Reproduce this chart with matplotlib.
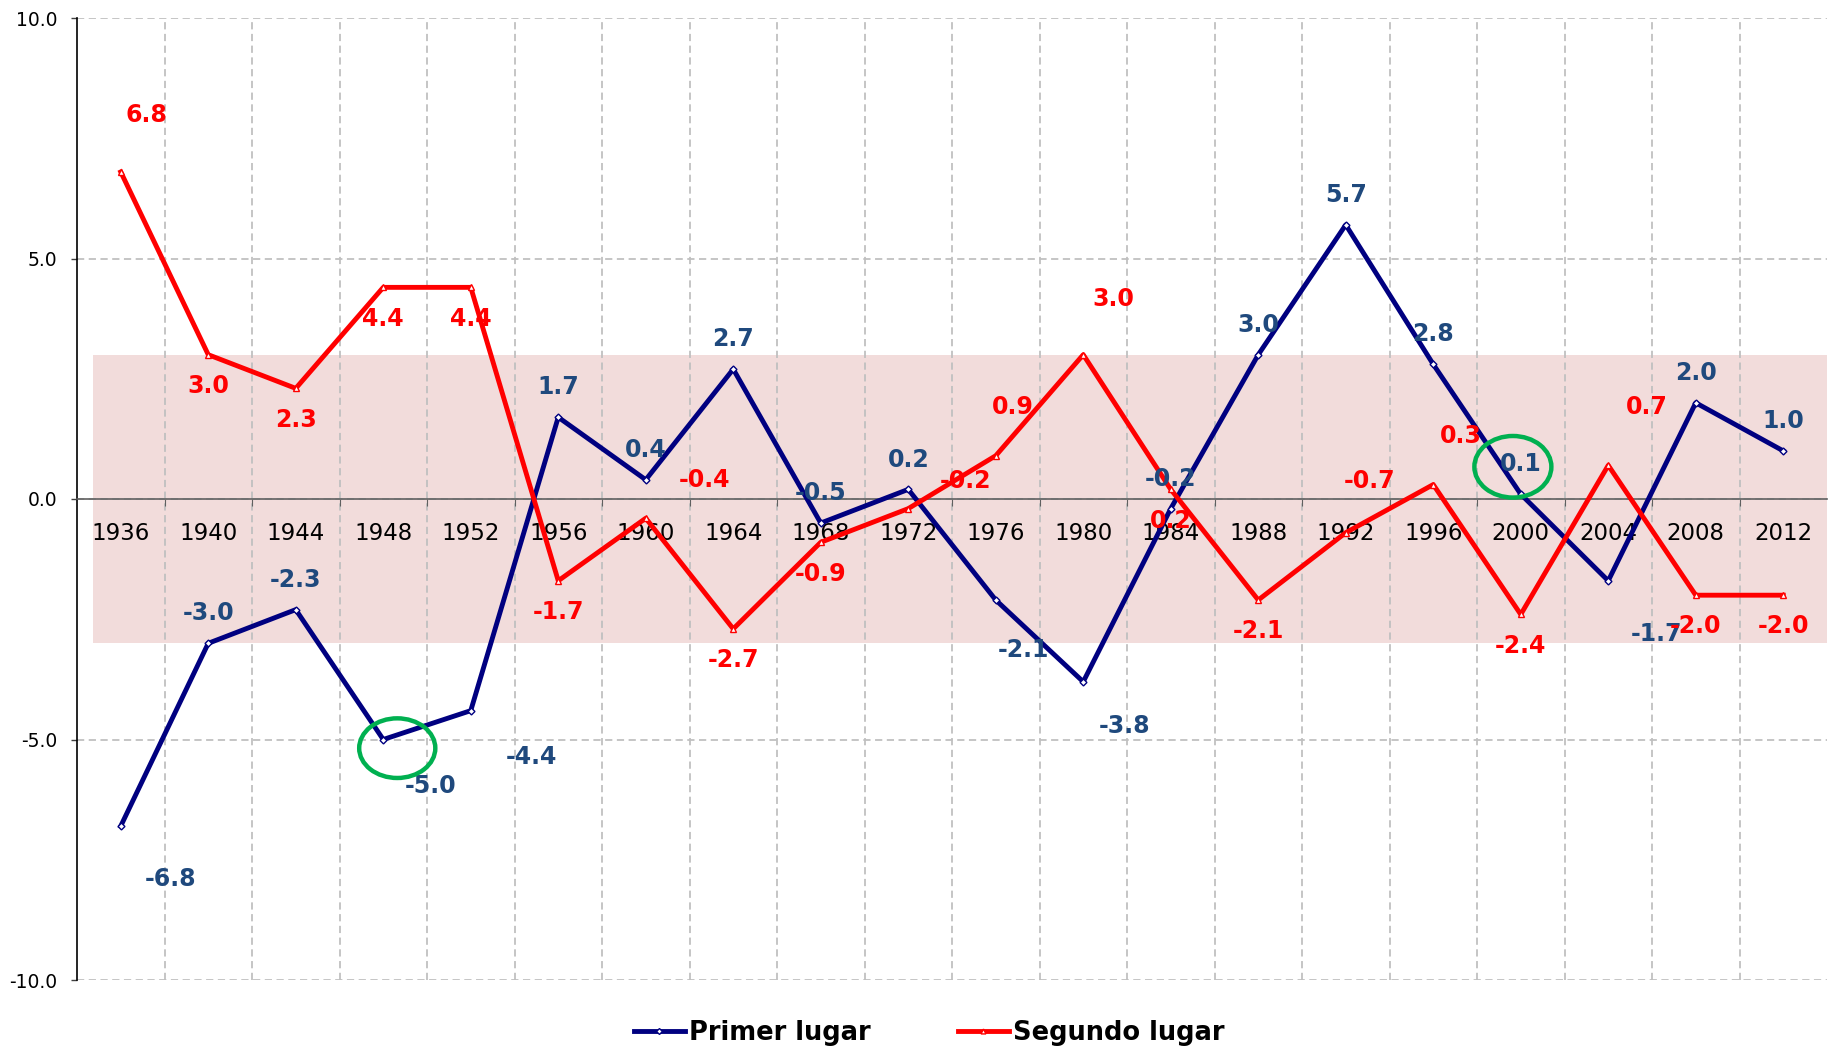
import matplotlib
matplotlib.use("Agg")
import matplotlib.pyplot as plt
from matplotlib.patches import Ellipse
from matplotlib.lines import Line2D
import numpy as np

years = ["1936", "1940", "1944", "1948", "1952", "1956", "1960", "1964", "1968", "1972",
         "1976", "1980", "1984", "1988", "1992", "1996", "2000", "2004", "2008", "2012"]
primer = [-6.8, -3.0, -2.3, -5.0, -4.4, 1.7, 0.4, 2.7, -0.5, 0.2,
          -2.1, -3.8, -0.2, 3.0, 5.7, 2.8, 0.1, -1.7, 2.0, 1.0]
segundo = [6.8, 3.0, 2.3, 4.4, 4.4, -1.7, -0.4, -2.7, -0.9, -0.2,
           0.9, 3.0, 0.2, -2.1, -0.7, 0.3, -2.4, 0.7, -2.0, -2.0]
series_names = ["Primer lugar", "Segundo lugar"]
band_low, band_high = -3.0, 3.0
highlight_years = ["1948", "2000"]

# label offsets (points) - layout only
A = (0, 21.5)
B = (0, -22.5)
primer_off = [(36, -38), A, A, (34, -33.6), (43.7, -33.6), A, A, A, A, A,
              (20, -36), (30, -32), A, A, A, A, A, (34.4, -38.6), A, A]
segundo_off = [(18.5, 41), B, B, B, B, B, (42, 27.7), B, B, (41, 20),
               (12.6, 35), (21.8, 40), B, B, (16.8, 37), (20, 35), B, (27.7, 42), B, B]

NAVY = "#000080"
RED = "#FF0000"
LBLUE = "#1F497D"

fig = plt.figure(figsize=(18.29, 10.49), dpi=100)
ax = fig.add_axes([77 / 1829, 1 - 980 / 1049, 1750 / 1829, 962 / 1049])

x = np.arange(len(years))
ax.set_xlim(-0.5, len(years) - 0.5)
ax.set_ylim(-10, 10)

# band
ax.fill_between([-0.317, len(years) - 0.5], band_low, band_high, color="#F2DCDB", zorder=0.1, lw=0)

ax.set_axisbelow(True)
ax.set_yticks([-10, -5, 0, 5, 10])
ax.set_yticklabels([f"{v:.1f}" for v in [-10, -5, 0, 5, 10]])
ax.yaxis.grid(True, linestyle=(0, (4, 2.5)), color="#C0C0C0", lw=1.3)
ax.set_xticks(np.arange(0.5, len(years) - 0.5, 1.0))
ax.set_xticklabels([])
ax.xaxis.grid(True, linestyle=(0, (4, 2.5)), color="#C0C0C0", lw=1.3)
ax.set_xticks(x, minor=True)
ax.set_xticklabels(years, minor=True)
ax.tick_params(axis="x", which="minor", length=0, pad=16.5, labelsize=16.5)
ax.tick_params(axis="x", which="major", length=5, color="#606060", direction="out")
ax.tick_params(axis="y", length=4, width=1, color="#404040", pad=10, labelsize=13.5)

for s in ["top", "right"]:
    ax.spines[s].set_visible(False)
ax.spines["bottom"].set_position(("data", 0))
ax.spines["bottom"].set_color("#606060")
ax.spines["bottom"].set_linewidth(1.2)
ax.spines["left"].set_color("black")
ax.spines["left"].set_linewidth(1.2)

ax.plot(x, primer, color=NAVY, lw=3.5, marker="D", ms=3.5, mfc="white", mec=NAVY, mew=1, zorder=3)
ax.plot(x, segundo, color=RED, lw=3.5, marker="^", ms=4.5, mfc="white", mec=RED, mew=1, zorder=3)

for i in range(len(years)):
    ax.annotate(f"{primer[i]:.1f}", (x[i], primer[i]), xytext=primer_off[i], textcoords="offset points",
                ha="center", va="center", fontsize=17, fontweight="bold", color=LBLUE, zorder=5)
    ax.annotate(f"{segundo[i]:.1f}", (x[i], segundo[i]), xytext=segundo_off[i], textcoords="offset points",
                ha="center", va="center", fontsize=17, fontweight="bold", color=RED, zorder=5)

# highlight ellipses
ell_specs = [(0.16, -0.18, 0.87, 1.24), (-0.09, 0.57, 0.88, 1.28)]
for yr, (dx, dy, w, h) in zip(highlight_years, ell_specs):
    i = years.index(yr)
    ax.add_patch(Ellipse((x[i] + dx, primer[i] + dy), w, h, fill=False, edgecolor="#00B050", lw=3.2, zorder=6))

handles = [Line2D([], [], color=NAVY, lw=3.5, marker="D", ms=3, mfc="white", mec=NAVY),
           Line2D([], [], color=RED, lw=3.5, marker="^", ms=3.5, mfc="white", mec=RED)]
leg = fig.legend(handles, series_names, loc="center", bbox_to_anchor=(929 / 1829, 1 - 1033 / 1049),
                 ncol=2, frameon=False, prop={"weight": "bold", "size": 18.5}, handlelength=2.0,
                 handletextpad=0.15, columnspacing=3.4)

fig.savefig("out.png", dpi=100)
